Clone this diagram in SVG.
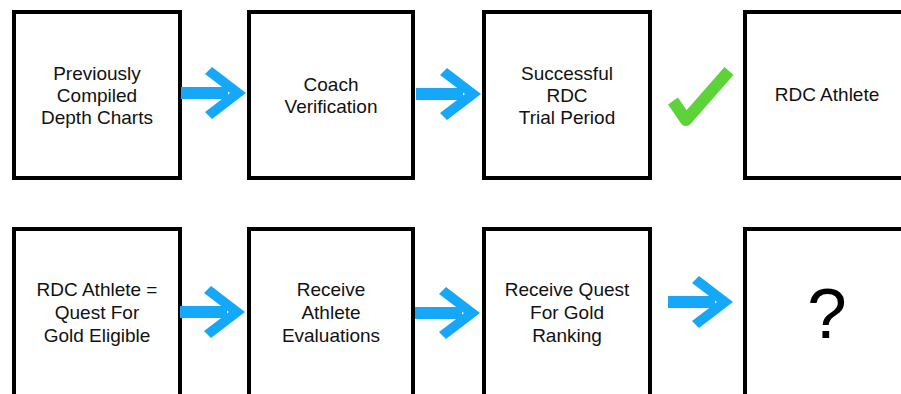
<svg xmlns="http://www.w3.org/2000/svg" xmlns:xlink="http://www.w3.org/1999/xlink" width="901" height="394" viewBox="0 0 901 394">
  <style>
    .box { fill: #ffffff; stroke: #000000; stroke-width: 4; }
    .lbl { font-family: "Liberation Sans", Arial, Helvetica, sans-serif; font-size: 19px; fill: #111111; text-anchor: middle; }
    .big { font-family: "Liberation Sans", Arial, Helvetica, sans-serif; font-size: 71px; fill: #000000; text-anchor: middle; }
    .arrow { fill: #15a8f8; }
  </style>
  <defs>
    <!-- right-pointing arrow, tip at origin -->
    <path id="arrow" class="arrow" d="M-65,-6 H-18 V6 H-65 Z M-41,-19 L-34,-26 L0,0 L-34,26 L-41,19 L-16,0 Z"/>
  </defs>
  <rect width="901" height="394" fill="#ffffff"/>

  <!-- top row -->
  <g id="depth-charts">
    <rect class="box" x="14" y="12" width="166" height="166"/>
    <text class="lbl" x="97" y="80">Previously</text>
    <text class="lbl" x="97" y="102">Compiled</text>
    <text class="lbl" x="97" y="124">Depth Charts</text>
  </g>
  <g id="coach-verification">
    <rect class="box" x="249" y="12" width="164" height="166"/>
    <text class="lbl" x="331" y="91">Coach</text>
    <text class="lbl" x="331" y="113">Verification</text>
  </g>
  <g id="trial-period">
    <rect class="box" x="484" y="12" width="166" height="166"/>
    <text class="lbl" x="567" y="80">Successful</text>
    <text class="lbl" x="567" y="102">RDC</text>
    <text class="lbl" x="567" y="124">Trial Period</text>
  </g>
  <g id="rdc-athlete">
    <rect class="box" x="745" y="12" width="166" height="166"/>
    <text class="lbl" x="827" y="101">RDC Athlete</text>
  </g>

  <!-- bottom row -->
  <g id="qfg-eligible">
    <rect class="box" x="14" y="229" width="166" height="180"/>
    <text class="lbl" x="97" y="296">RDC Athlete =</text>
    <text class="lbl" x="97" y="319">Quest For</text>
    <text class="lbl" x="97" y="342">Gold Eligible</text>
  </g>
  <g id="athlete-evaluations">
    <rect class="box" x="249" y="229" width="164" height="180"/>
    <text class="lbl" x="331" y="296">Receive</text>
    <text class="lbl" x="331" y="319">Athlete</text>
    <text class="lbl" x="331" y="342">Evaluations</text>
  </g>
  <g id="qfg-ranking">
    <rect class="box" x="484" y="229" width="166" height="180"/>
    <text class="lbl" x="567" y="296">Receive Quest</text>
    <text class="lbl" x="567" y="319">For Gold</text>
    <text class="lbl" x="567" y="342">Ranking</text>
  </g>
  <g id="unknown">
    <rect class="box" x="745" y="229" width="166" height="180"/>
    <text class="big" x="827" y="338">?</text>
  </g>

  <!-- connectors -->
  <g id="connectors">
    <use xlink:href="#arrow" href="#arrow" x="246" y="93"/>
    <use xlink:href="#arrow" href="#arrow" x="481" y="94"/>
    <polyline points="673,101 686,120 729,71" fill="none" stroke="#5dd33a" stroke-width="12" stroke-linejoin="round"/>
    <use xlink:href="#arrow" href="#arrow" x="245" y="312"/>
    <use xlink:href="#arrow" href="#arrow" x="480" y="313"/>
    <use xlink:href="#arrow" href="#arrow" x="733" y="302"/>
  </g>
</svg>
